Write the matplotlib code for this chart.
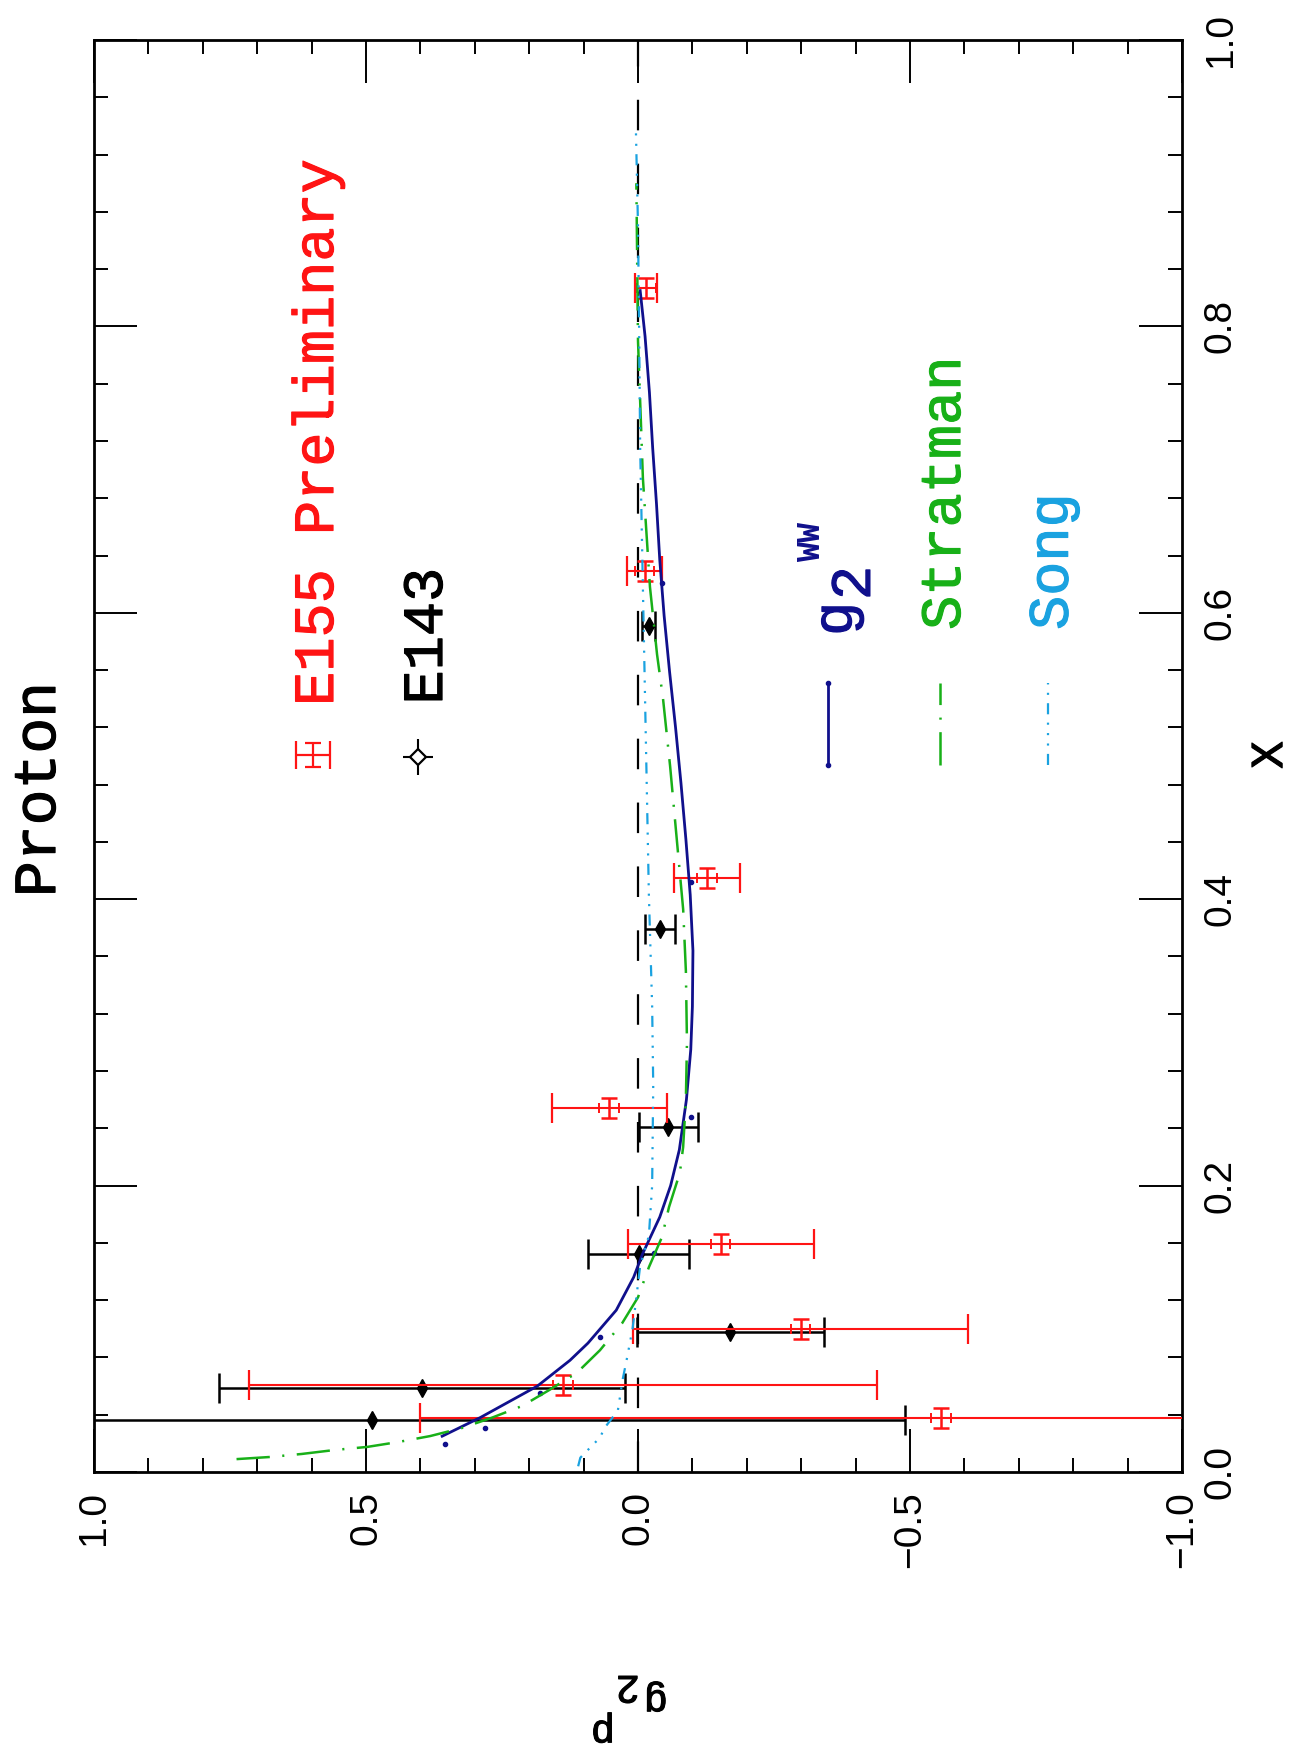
import matplotlib
matplotlib.use('Agg')
import matplotlib.pyplot as plt
import matplotlib.patheffects as pe
from matplotlib.ticker import FixedLocator, MultipleLocator, FixedFormatter

plt.rcParams['lines.scale_dashes'] = False
plt.rcParams['font.family'] = ['Liberation Sans', 'DejaVu Sans']

# ---------------- data (x = Bjorken X, g2 = g2^p) ----------------
e155_x = [0.038, 0.061, 0.100, 0.159, 0.254, 0.415, 0.629, 0.827]
e155_g2 = [-0.557, 0.138, -0.299, -0.152, 0.053, -0.127, -0.012, -0.015]
e155_err = [0.958, 0.577, 0.308, 0.171, 0.106, 0.060, 0.032, 0.020]
e155_sys = [0.018, 0.018, 0.018, 0.018, 0.018, 0.018, 0.018, 0.018]

e143_x = [0.036, 0.059, 0.098, 0.152, 0.241, 0.379, 0.591]
e143_g2 = [0.489, 0.397, -0.170, -0.001, -0.056, -0.040, -0.020]
e143_err = [0.980, 0.373, 0.172, 0.093, 0.054, 0.028, 0.012]

ww_x = [0.025, 0.038, 0.060, 0.078, 0.090, 0.113, 0.136, 0.152, 0.178, 0.200,
        0.225, 0.260, 0.295, 0.325, 0.364, 0.403, 0.442, 0.481, 0.520, 0.559,
        0.598, 0.637, 0.676, 0.715, 0.754, 0.793, 0.825]
ww_g2 = [0.360, 0.290, 0.185, 0.125, 0.092, 0.040, 0.008, -0.008, -0.040, -0.060,
         -0.076, -0.089, -0.097, -0.100, -0.101, -0.096, -0.088, -0.079, -0.069, -0.058,
         -0.048, -0.040, -0.034, -0.027, -0.021, -0.013, -0.004]

ww_dot_x = [0.0196, 0.031, 0.055, 0.094, 0.153, 0.248, 0.412, 0.621]
ww_dot_g2 = [0.355, 0.281, 0.180, 0.070, -0.030, -0.097, -0.098, -0.044]

strat_x = [0.009, 0.0105, 0.0126, 0.0154, 0.0175, 0.021, 0.0251, 0.0307, 0.038, 0.0461,
           0.0575, 0.0694, 0.085, 0.104, 0.122, 0.143, 0.164, 0.185, 0.209, 0.227,
           0.26, 0.30, 0.35, 0.393, 0.443, 0.493, 0.540, 0.571, 0.618, 0.694, 0.79, 0.90]
strat_g2 = [0.738, 0.676, 0.618, 0.557, 0.498, 0.44, 0.382, 0.324, 0.268, 0.213,
            0.162, 0.112, 0.07, 0.029, 0.0, -0.02, -0.044, -0.057, -0.077, -0.083,
            -0.088, -0.090, -0.088, -0.083, -0.071, -0.059, -0.046, -0.035, -0.022, -0.009, 0.0, 0.003]

song_x = [0.004, 0.010, 0.024, 0.031, 0.043, 0.065, 0.078, 0.10, 0.144, 0.165, 0.20,
          0.27, 0.325, 0.403, 0.481, 0.559, 0.637, 0.715, 0.80, 0.87, 0.94]
song_g2 = [0.110, 0.106, 0.070, 0.061, 0.037, 0.028, 0.021, 0.010, -0.004, -0.020, -0.026,
           -0.028, -0.026, -0.020, -0.016, -0.012, -0.008, -0.004, -0.002, 0.0, 0.004]

g2_ticks = [1.0, 0.5, 0.0, -0.5, -1.0]
g2_ticklabels = ['1.0', '0.5', '0.0', '\u22120.5', '\u22121.0']
x_ticks = [0.0, 0.2, 0.4, 0.6, 0.8, 1.0]
x_ticklabels = ['0.0', '0.2', '0.4', '0.6', '0.8', '1.0']

RED = '#ff1414'
BLUE = '#10108c'
GREEN = '#18b018'
CYAN = '#1aa2e0'
MONO = ['Liberation Mono', 'DejaVu Sans Mono']

fig = plt.figure(figsize=(12.9, 17.54), dpi=100)
ax = fig.add_axes([94 / 1290, (1754 - 1472) / 1754, 1088 / 1290, 1432 / 1754])

# zero line
ax.axvline(0.0, color='black', lw=1.6, dashes=(22, 24), zorder=1)

# E143
ax.errorbar(e143_g2, e143_x, xerr=e143_err, fmt='d', color='black', ms=9,
            elinewidth=1.8, capsize=10.8, capthick=1.8, zorder=3)
# E155
ax.errorbar(e155_g2, e155_x, xerr=e155_err, fmt='none', ecolor=RED,
            elinewidth=1.5, capsize=10.8, capthick=1.6, zorder=4)
ax.errorbar(e155_g2, e155_x, yerr=0.007, fmt='none', ecolor=RED,
            elinewidth=1.8, capsize=6, capthick=1.8, zorder=4)
ax.errorbar(e155_g2, e155_x, xerr=e155_sys, fmt='none', ecolor=RED,
            elinewidth=0, capsize=3.5, capthick=1.4, zorder=4)

# curves
ax.plot(ww_g2, ww_x, color=BLUE, lw=2.0, zorder=5)
ax.plot(ww_dot_g2, ww_dot_x, 'o', color=BLUE, ms=3, zorder=5)
ax.plot(strat_g2, strat_x, color=GREEN, lw=1.8, dashes=(24, 9, 1.5, 9), zorder=5)
ax.plot(song_g2, song_x, color=CYAN, lw=1.6, dashes=(8, 6, 1.5, 6, 1.5, 6, 1.5, 6), zorder=5)

# axes
ax.set_xlim(1, -1)
ax.set_ylim(0, 1)
ax.xaxis.set_major_locator(FixedLocator(g2_ticks))
ax.xaxis.set_major_formatter(FixedFormatter(g2_ticklabels))
ax.xaxis.set_minor_locator(MultipleLocator(0.1))
ax.yaxis.set_major_locator(FixedLocator(x_ticks))
ax.yaxis.set_major_formatter(FixedFormatter(x_ticklabels))
ax.yaxis.set_minor_locator(MultipleLocator(0.04))
ax.tick_params(which='both', direction='in', top=True, bottom=True, left=True, right=True,
               labelleft=False, labelright=True, labeltop=False, labelbottom=True)
ax.tick_params(which='major', length=31, width=1.4)
ax.tick_params(which='minor', length=10, width=1.4)
ax.tick_params(axis='x', pad=14, labelsize=28, labelrotation=90)
ax.tick_params(axis='y', pad=15, labelsize=28, labelrotation=90)
for lbl in ax.get_yticklabels():
    lbl.set_va('center')
for sp in ax.spines.values():
    sp.set_linewidth(2.0)

T = ax.transAxes


def thick(c):
    return [pe.withStroke(linewidth=0.8, foreground=c)]


kw = dict(transform=T, rotation=90, rotation_mode='anchor', ha='left', va='baseline',
          family=MONO)

# title and axis labels
ax.text(-0.0358, 0.4015, 'Proton', fontsize=43, color='black',
        path_effects=thick('black'), **kw)
ax.text(1.081, 0.5007, 'X', transform=T, rotation=90, ha='center', va='center',
        fontsize=33, family=MONO, path_effects=thick('black'))
kw180 = dict(transform=T, rotation=180, rotation_mode='anchor', ha='left', va='baseline',
             family=MONO, fontsize=29, color='black', path_effects=thick('black'))
ax.text(0.5276, -0.1522, 'g', **kw180)
ax.text(0.5018, -0.1425, '2', **kw180)
ax.text(0.4789, -0.1739, 'p', **kw180)

# legend: data sets
ax.text(0.2197, 0.535, 'E155 Preliminary', fontsize=41, color=RED,
        path_effects=thick(RED), **kw)
ax.text(0.3199, 0.536, 'E143', fontsize=41, color='black',
        path_effects=thick('black'), **kw)
ax.errorbar([0.2013], [0.5007], xerr=0.0156, fmt='none', ecolor=RED, elinewidth=1.6,
            capsize=10, capthick=1.6, transform=T, clip_on=False)
ax.errorbar([0.2013], [0.5007], yerr=0.0085, fmt='none', ecolor=RED, elinewidth=1.6,
            capsize=6, capthick=1.6, transform=T, clip_on=False)
ax.errorbar([0.2978], [0.4993], xerr=0.0138, yerr=0.0126, fmt='D', color='black',
            ms=8, mfc='white', mec='black', mew=1.6, elinewidth=1.5, capsize=0,
            transform=T, clip_on=False)

# legend: curves
ax.plot([0.6746, 0.6746], [0.4937, 0.551], color=BLUE, lw=2.0, transform=T)
ax.plot([0.6746, 0.6746], [0.4937, 0.551], 'o', color=BLUE, ms=3, transform=T)
ax.plot([0.7776, 0.7776], [0.4937, 0.551], color=GREEN, lw=1.8, dashes=(24, 9, 1.5, 9),
        transform=T)
ax.plot([0.8768, 0.8768], [0.4937, 0.551], color=CYAN, lw=1.6,
        dashes=(8, 6, 1.5, 6, 1.5, 6, 1.5, 6), transform=T)

ax.text(0.6967, 0.5838, 'g', fontsize=41, color=BLUE, path_effects=thick(BLUE), **kw)
ax.text(0.7132, 0.6089, '2', fontsize=41, color=BLUE, path_effects=thick(BLUE), **kw)
ax.text(0.6673, 0.6355, 'WW', fontsize=24, color=BLUE, fontweight='bold', **kw)
ax.text(0.796, 0.588, 'Stratman', fontsize=41, color=GREEN, path_effects=thick(GREEN), **kw)
ax.text(0.895, 0.588, 'Song', fontsize=41, color=CYAN, path_effects=thick(CYAN), **kw)

ax.set_xlim(1, -1)
ax.set_ylim(0, 1)
fig.savefig('out.png', dpi=100, facecolor='white')
